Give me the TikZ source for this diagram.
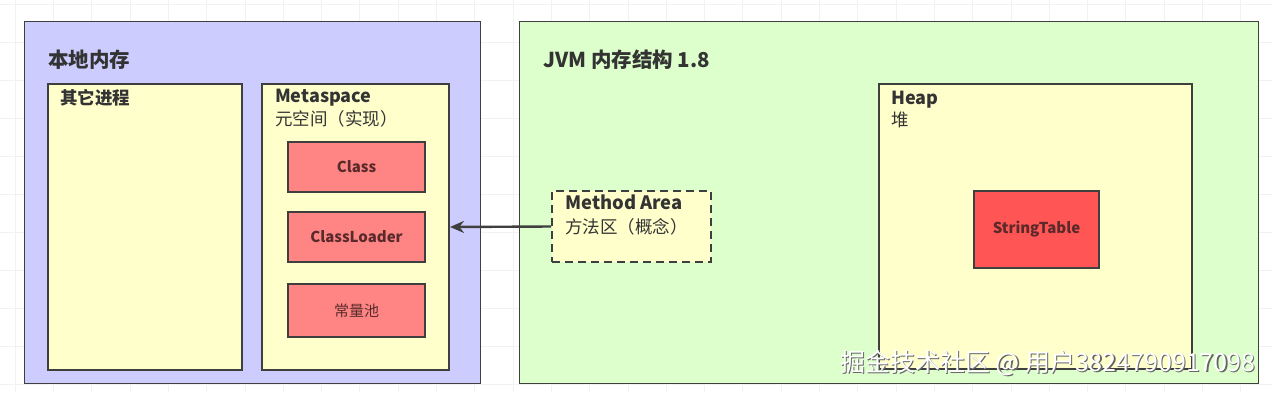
\documentclass[tikz,border=0pt]{standalone}
\usepackage{fontspec}
\setmainfont{Noto Sans CJK SC}
\usetikzlibrary{arrows.meta}
\definecolor{bgpurple}{HTML}{CCCCFF}
\definecolor{bggreen}{HTML}{DDFFCC}
\definecolor{boxyellow}{HTML}{FFFFCC}
\definecolor{boxred}{HTML}{FF8585}
\definecolor{strred}{HTML}{FF5555}
\definecolor{edge}{HTML}{3F3F3F}
\definecolor{txt}{HTML}{333333}
\definecolor{redtxt}{HTML}{5A2A2A}
\tikzset{
  outerbox/.style={draw=edge, line width=1pt, anchor=north west, inner sep=0pt},
  panel/.style={draw=edge, line width=2pt, fill=boxyellow, anchor=north west, inner sep=0pt},
  redbox/.style={draw=edge, line width=2pt, fill=boxred, anchor=north west, inner sep=0pt, font=\bfseries\fontsize{15}{17}\selectfont, text=redtxt},
  title/.style={anchor=base west, inner sep=0pt, font=\bfseries\fontsize{20.5}{22}\selectfont, text=txt},
  label/.style={anchor=base west, inner sep=0pt, font=\bfseries\fontsize{18}{20}\selectfont, text=txt},
  sublabel/.style={anchor=base west, inner sep=0pt, font=\fontsize{17.5}{19}\selectfont, text=txt},
}
\begin{document}
\begin{tikzpicture}[x=1pt,y=-1pt]
\useasboundingbox (0,0) rectangle (1272,392);
\fill[white] (0,0) rectangle (1272,392);
% faint grid
\foreach \i in {0,...,33} {
  \draw[gray!10, line width=0.6pt] (15+38.3*\i,0) -- (15+38.3*\i,392);
}
\foreach \j in {0,...,10} {
  \draw[gray!10, line width=0.6pt] (0,4+38*\j) -- (1272,4+38*\j);
}
% outer regions
\node[outerbox, fill=bgpurple, minimum width=456pt, minimum height=362pt] (native) at (24,21) {};
\node[outerbox, fill=bggreen, minimum width=739pt, minimum height=362pt] (jvm) at (519,21) {};
\node[title] (nativet) at (48,67) {本地内存};
\node[title] (jvmt) at (543,67) {JVM 内存结构 1.8};
% other processes
\node[panel, minimum width=194pt, minimum height=286pt] (other) at (47,83) {};
\node[label, font=\bfseries\fontsize{17.5}{19}\selectfont] (othert) at (60,104) {其它进程};
% metaspace
\node[panel, minimum width=187pt, minimum height=286pt] (meta) at (261,83) {};
\node[label] (metat) at (275,102) {Metaspace};
\node[sublabel] (metas) at (275,125) {元空间（实现）};
\node[redbox, minimum width=137pt, minimum height=50pt] (class) at (287,141) {Class};
\node[redbox, minimum width=137pt, minimum height=50pt] (loader) at (287,211) {ClassLoader};
\node[redbox, minimum width=137pt, minimum height=53pt, font=\fontsize{15}{17}\selectfont] (pool) at (287,283) {常量池};
% method area
\node[draw=edge, line width=2pt, dash pattern=on 8pt off 5pt, fill=boxyellow, anchor=north west, inner sep=0pt, minimum width=159pt, minimum height=71pt] (method) at (551,190) {};
\node[label, font=\bfseries\fontsize{18.4}{20}\selectfont] (methodt) at (565,209) {Method Area};
\node[sublabel] (methods) at (565,233) {方法区（概念）};
\draw[edge, line width=2.4pt, -{Stealth[length=14pt,width=12pt]}] (method.west) -- (meta.east);
% heap
\node[panel, minimum width=313pt, minimum height=285pt] (heap) at (878,83) {};
\node[label] (heapt) at (891,104) {Heap};
\node[sublabel] (heaps) at (891,126) {堆};
\node[redbox, fill=strred, minimum width=125pt, minimum height=77pt] (st) at (973,190) {StringTable};
% watermark
\node[anchor=base west, inner sep=0pt, font=\fontsize{25}{27}\selectfont, text=black!60] (wm0) at (841.2,372.2) {掘金技术社区 @ 用户3824790917098};
\node[anchor=base west, inner sep=0pt, font=\fontsize{25}{27}\selectfont, text=white] (wm) at (840,371) {掘金技术社区 @ 用户3824790917098};
\end{tikzpicture}
\end{document}
